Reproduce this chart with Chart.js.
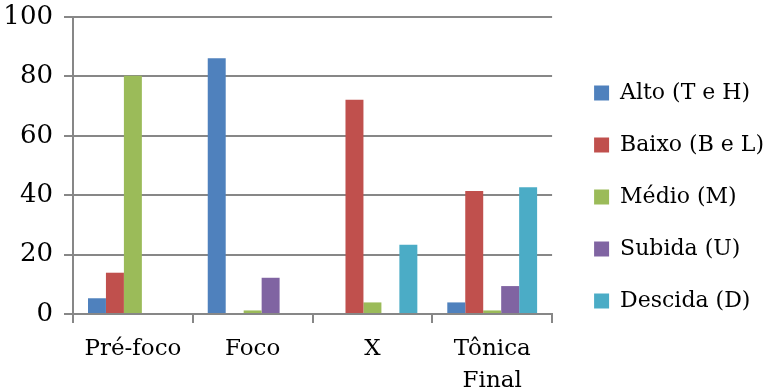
<!DOCTYPE html>
<html>
<head>
<meta charset="utf-8">
<script src="https://cdn.jsdelivr.net/npm/chart.js@4"></script>
<style>
  html, body { margin: 0; padding: 0; background: #fff; }
  #wrap { width: 769px; height: 390px; }
</style>
</head>
<body>
<div id="wrap"><canvas id="chart" width="769" height="390"></canvas></div>
<script>
// ======= Data =======
const categories = ['Pré-foco', 'Foco', 'X', ['Tônica', 'Final']];
const alto = [5.3, 86.1, 0, 3.9];
const baixo = [13.9, 0, 72.1, 41.4];
const medio = [80.2, 1.2, 3.9, 1.2];
const subida = [0, 12.2, 0, 9.4];
const descida = [0, 0, 23.3, 42.7];
const yTicks = [0, 20, 40, 60, 80, 100];

const seriesNames = ['Alto (T e H)', 'Baixo (B e L)', 'Médio (M)', 'Subida (U)', 'Descida (D)'];
const seriesData = [alto, baixo, medio, subida, descida];
const seriesColors = ['#4F81BD', '#C0504D', '#9BBB59', '#8064A2', '#4BACC6'];

const FONT = 'DejaVu Serif';
const GRID = '#878787';

// ======= Chart =======
const ctx = document.getElementById('chart').getContext('2d');
new Chart(ctx, {
    type: 'bar',
    data: {
        labels: categories,
        datasets: seriesNames.map((name, i) => ({
            label: name,
            data: seriesData[i],
            backgroundColor: seriesColors[i],
            borderWidth: 0,
            barPercentage: 1,
            categoryPercentage: 0.75
        }))
    },
    options: {
        responsive: false,
        animation: false,
        layout: { padding: { top: -3, left: 3, right: -5, bottom: -7 } },
        plugins: {
            tooltip: { enabled: false },
            legend: {
                position: 'right',
                maxWidth: 400,
                labels: {
                    boxWidth: 15,
                    boxHeight: 15,
                    padding: 30,
                    color: '#000',
                    font: { family: FONT, size: 22 }
                }
            }
        },
        scales: {
            x: {
                grid: {
                    offset: true,
                    drawOnChartArea: false,
                    drawTicks: true,
                    tickLength: 9,
                    color: GRID,
                    lineWidth: 2
                },
                border: { color: GRID, width: 2 },
                ticks: {
                    color: '#000',
                    maxRotation: 0,
                    autoSkip: false,
                    padding: 10,
                    font: { family: FONT, size: 23, lineHeight: 1.4 }
                },
                // axis band below the plot, room for two label lines
                afterFit: scale => { scale.height = 83; }
            },
            y: {
                min: 0,
                max: 100,
                afterBuildTicks: axis => {
                    axis.ticks = yTicks.map(v => ({ value: v }));
                },
                grid: {
                    color: GRID,
                    lineWidth: 2,
                    tickLength: 9
                },
                border: { color: GRID, width: 2 },
                ticks: {
                    color: '#000',
                    padding: 11,
                    font: { family: FONT, size: 26 }
                },
                afterFit: scale => {
                    scale.width = 70;
                    scale.paddingTop = 17;
                    scale.paddingBottom = 0;
                }
            },
            // empty gap between the plot and the legend
            gap: {
                type: 'linear',
                position: 'right',
                grid: { display: false },
                border: { display: false },
                ticks: { display: false },
                afterFit: scale => { scale.width = 12; }
            }
        }
    }
});
</script>
</body>
</html>
